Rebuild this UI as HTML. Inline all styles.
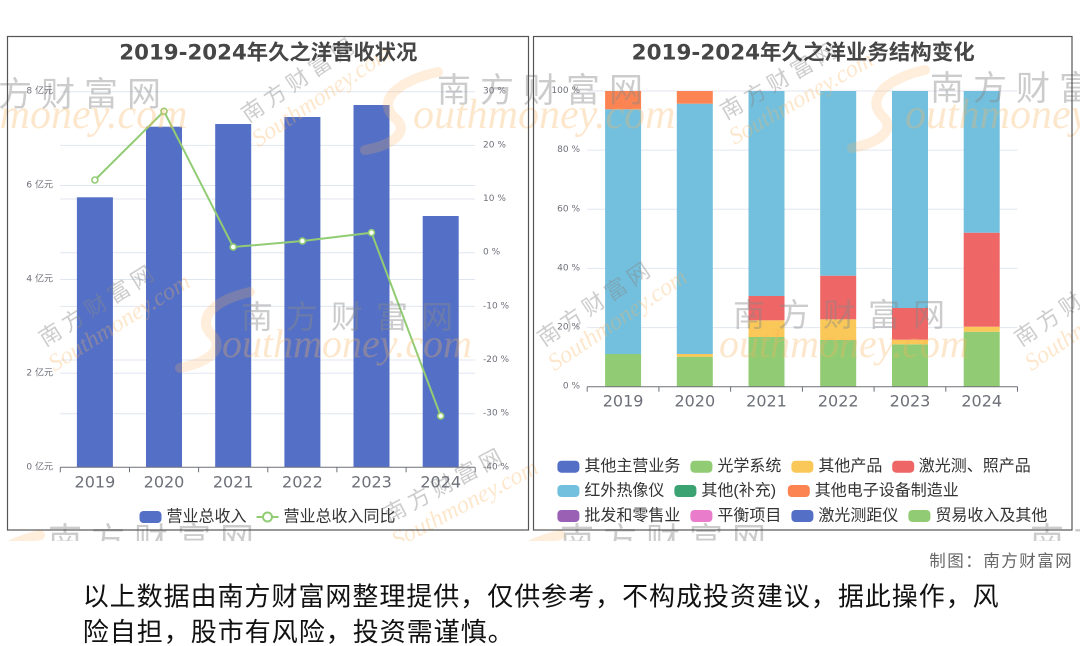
<!DOCTYPE html>
<html><head><meta charset="utf-8"><style>
html,body{margin:0;padding:0;background:#fff;}
svg{display:block}
.ax{font-family:"DejaVu Sans","Noto Sans CJK SC",sans-serif;font-size:9px;fill:#6e7079;}
.xl{font-family:"DejaVu Sans","Noto Sans CJK SC",sans-serif;font-size:16px;fill:#6e7079;}
.tt{font-family:"DejaVu Sans","Noto Sans CJK SC",sans-serif;font-size:21px;font-weight:bold;fill:#464646;}
.lg{font-family:"Liberation Sans","Noto Sans CJK SC",sans-serif;font-size:16px;fill:#333;}
.wg{font-family:"WenQuanYi Zen Hei","Noto Sans CJK SC",sans-serif;fill:#888;opacity:0.42;}
.wo{font-family:"Liberation Serif",serif;font-style:italic;fill:#fbb35a;opacity:0.3;}
</style></head><body>
<svg width="1080" height="646" viewBox="0 0 1080 646" xmlns="http://www.w3.org/2000/svg">
<defs><clipPath id="cl"><rect x="0" y="0" width="1080" height="541"/></clipPath></defs>
<rect x="0" y="0" width="1080" height="646" fill="#fff"/>

<!-- LEFT CHART gridlines -->
<g stroke="#e0e6f1" stroke-width="1">
<line x1="60.3" y1="91.7" x2="475.2" y2="91.7"/>
<line x1="60.3" y1="185.5" x2="475.2" y2="185.5"/>
<line x1="60.3" y1="279.5" x2="475.2" y2="279.5"/>
<line x1="60.3" y1="373.3" x2="475.2" y2="373.3"/>
<line x1="60.3" y1="145.4" x2="475.2" y2="145.4"/>
<line x1="60.3" y1="199" x2="475.2" y2="199"/>
<line x1="60.3" y1="252.7" x2="475.2" y2="252.7"/>
<line x1="60.3" y1="306.4" x2="475.2" y2="306.4"/>
<line x1="60.3" y1="360" x2="475.2" y2="360"/>
<line x1="60.3" y1="413.7" x2="475.2" y2="413.7"/>
</g>
<!-- bars -->
<g fill="#5470c6">
<rect x="76.9" y="197.3" width="36" height="270"/>
<rect x="146" y="126.7" width="36" height="340.6"/>
<rect x="215.2" y="124" width="36" height="343.3"/>
<rect x="284.4" y="117" width="36" height="350.3"/>
<rect x="353.5" y="105" width="36" height="362.3"/>
<rect x="422.7" y="216" width="36" height="251.3"/>
</g>
<!-- line -->
<polyline points="94.9,180 164,111.3 233.2,247 302.4,241 371.5,232.7 440.7,416" fill="none" stroke="#91cc75" stroke-width="2"/>
<g fill="#fff" stroke="#91cc75" stroke-width="1.6">
<circle cx="94.9" cy="180" r="3"/><circle cx="164" cy="111.3" r="3"/><circle cx="233.2" cy="247" r="3"/>
<circle cx="302.4" cy="241" r="3"/><circle cx="371.5" cy="232.7" r="3"/><circle cx="440.7" cy="416" r="3"/>
</g>
<!-- axis -->
<g stroke="#6e7079" stroke-width="1">
<line x1="60.3" y1="467.3" x2="475.2" y2="467.3"/>
<line x1="60.3" y1="467.3" x2="60.3" y2="472.3"/>
<line x1="129.5" y1="467.3" x2="129.5" y2="472.3"/>
<line x1="198.6" y1="467.3" x2="198.6" y2="472.3"/>
<line x1="267.8" y1="467.3" x2="267.8" y2="472.3"/>
<line x1="336.9" y1="467.3" x2="336.9" y2="472.3"/>
<line x1="406.1" y1="467.3" x2="406.1" y2="472.3"/>
<line x1="475.2" y1="467.3" x2="475.2" y2="472.3"/>
</g>

<!-- RIGHT CHART gridlines -->
<g stroke="#e0e6f1" stroke-width="1">
<line x1="587.2" y1="91" x2="1017.5" y2="91"/>
<line x1="587.2" y1="150.1" x2="1017.5" y2="150.1"/>
<line x1="587.2" y1="209.3" x2="1017.5" y2="209.3"/>
<line x1="587.2" y1="268.4" x2="1017.5" y2="268.4"/>
<line x1="587.2" y1="327.6" x2="1017.5" y2="327.6"/>
</g>
<g>
<rect x="605.1" y="354" width="36" height="32.7" fill="#91cc75"/>
<rect x="605.1" y="109.3" width="36" height="244.7" fill="#73c0de"/>
<rect x="605.1" y="91" width="36" height="18.3" fill="#fc8452"/>

<rect x="676.8" y="356.7" width="36" height="30" fill="#91cc75"/>
<rect x="676.8" y="354" width="36" height="2.7" fill="#fac858"/>
<rect x="676.8" y="103.7" width="36" height="250.3" fill="#73c0de"/>
<rect x="676.8" y="91" width="36" height="12.7" fill="#fc8452"/>

<rect x="748.5" y="337" width="36" height="49.7" fill="#91cc75"/>
<rect x="748.5" y="320.3" width="36" height="16.7" fill="#fac858"/>
<rect x="748.5" y="296" width="36" height="24.3" fill="#ee6666"/>
<rect x="748.5" y="91" width="36" height="205" fill="#73c0de"/>

<rect x="820.2" y="340" width="36" height="46.7" fill="#91cc75"/>
<rect x="820.2" y="319.3" width="36" height="20.7" fill="#fac858"/>
<rect x="820.2" y="275.7" width="36" height="43.6" fill="#ee6666"/>
<rect x="820.2" y="91" width="36" height="184.7" fill="#73c0de"/>

<rect x="892" y="344.3" width="36" height="42.4" fill="#91cc75"/>
<rect x="892" y="339.7" width="36" height="4.6" fill="#fac858"/>
<rect x="892" y="308" width="36" height="31.7" fill="#ee6666"/>
<rect x="892" y="91" width="36" height="217" fill="#73c0de"/>

<rect x="963.7" y="331.7" width="36" height="55" fill="#91cc75"/>
<rect x="963.7" y="326.7" width="36" height="5" fill="#fac858"/>
<rect x="963.7" y="232.7" width="36" height="94" fill="#ee6666"/>
<rect x="963.7" y="91" width="36" height="141.7" fill="#73c0de"/>
</g>
<g stroke="#6e7079" stroke-width="1">
<line x1="587.2" y1="386.7" x2="1017.5" y2="386.7"/>
<line x1="587.2" y1="386.7" x2="587.2" y2="391.7"/>
<line x1="658.9" y1="386.7" x2="658.9" y2="391.7"/>
<line x1="730.6" y1="386.7" x2="730.6" y2="391.7"/>
<line x1="802.4" y1="386.7" x2="802.4" y2="391.7"/>
<line x1="874.1" y1="386.7" x2="874.1" y2="391.7"/>
<line x1="945.8" y1="386.7" x2="945.8" y2="391.7"/>
<line x1="1017.5" y1="386.7" x2="1017.5" y2="391.7"/>
</g>

<!-- WATERMARKS -->
<g clip-path="url(#cl)">
<g fill="none" stroke="#fbb35a" stroke-opacity="0.22" stroke-width="10" stroke-linecap="round">
<path d="M438 72 C400 80 375 100 395 118 C410 130 395 145 365 150"/>
<path d="M250 292 C215 300 195 318 212 335 C225 348 210 362 180 368"/>
<path d="M925 70 C888 78 865 98 882 116 C896 128 882 142 852 148"/>
<path d="M40 535 C20 540 10 545 5 548"/>
<path d="M560 535 C540 540 530 545 525 548"/>
</g>
<text class="wg" x="-45" y="106" font-size="34" letter-spacing="9">南方财富网</text>
<text class="wo" x="-75" y="128" font-size="42">outhmoney.com</text>
<text class="wg" x="437" y="102" font-size="34" letter-spacing="9">南方财富网</text>
<text class="wo" x="413" y="128" font-size="42">outhmoney.com</text>
<text class="wg" x="930" y="100" font-size="34" letter-spacing="9">南方财富网</text>
<text class="wo" x="905" y="128" font-size="42">outhmoney.com</text>
<text class="wg" x="241" y="328" font-size="32" letter-spacing="13">南方财富网</text>
<text class="wo" x="222" y="357" font-size="40">outhmoney.com</text>
<text class="wg" x="733" y="326" font-size="32" letter-spacing="13">南方财富网</text>
<text class="wo" x="719" y="357" font-size="40">outhmoney.com</text>
<text class="wg" x="48" y="552" font-size="34" letter-spacing="9">南方财富网</text>
<text class="wg" x="560" y="552" font-size="34" letter-spacing="9">南方财富网</text>
<text class="wg" x="1030" y="552" font-size="34" letter-spacing="9">南方财富网</text>
<g transform="translate(248,123) rotate(-34)"><text class="wg" x="0" y="0" font-size="22" letter-spacing="5">南方财富网</text><text class="wo" x="-5" y="26" font-size="24">Southmoney.com</text></g>
<g transform="translate(45,347) rotate(-32)"><text class="wg" x="0" y="0" font-size="22" letter-spacing="5">南方财富网</text><text class="wo" x="-5" y="26" font-size="24">Southmoney.com</text></g>
<g transform="translate(726,120) rotate(-30)"><text class="wg" x="0" y="0" font-size="22" letter-spacing="5">南方财富网</text><text class="wo" x="-5" y="26" font-size="24">Southmoney.com</text></g>
<g transform="translate(544,347) rotate(-34)"><text class="wg" x="0" y="0" font-size="22" letter-spacing="5">南方财富网</text><text class="wo" x="-5" y="26" font-size="24">Southmoney.com</text></g>
<g transform="translate(1021,347) rotate(-34)"><text class="wg" x="0" y="0" font-size="22" letter-spacing="5">南方财富网</text><text class="wo" x="-5" y="26" font-size="24">Southmoney.com</text></g>
<g transform="translate(389,523) rotate(-28)"><text class="wg" x="0" y="0" font-size="22" letter-spacing="5">南方财富网</text><text class="wo" x="-5" y="26" font-size="24">Southmoney.com</text></g>
</g>

<!-- Panel borders -->
<rect x="7.5" y="36.5" width="521" height="493.5" fill="none" stroke="#555" stroke-width="1.2"/>
<rect x="533.5" y="36.5" width="538.5" height="493.5" fill="none" stroke="#555" stroke-width="1.2"/>

<!-- Titles -->
<text class="tt" x="268.3" y="52.7" text-anchor="middle" dominant-baseline="central" textLength="298" lengthAdjust="spacingAndGlyphs">2019-2024年久之洋营收状况</text>
<text class="tt" x="803.2" y="52.7" text-anchor="middle" dominant-baseline="central" textLength="343" lengthAdjust="spacingAndGlyphs">2019-2024年久之洋业务结构变化</text>

<!-- Left axis labels -->
<g class="ax" text-anchor="end" dominant-baseline="central">
<text x="53" y="91.7">8 亿元</text>
<text x="53" y="185.5">6 亿元</text>
<text x="53" y="279.5">4 亿元</text>
<text x="53" y="373.3">2 亿元</text>
<text x="53" y="467.3">0 亿元</text>
</g>
<g class="ax" text-anchor="start" dominant-baseline="central">
<text x="483" y="91.7">30 %</text>
<text x="483" y="145.4">20 %</text>
<text x="483" y="199">10 %</text>
<text x="483" y="252.7">0 %</text>
<text x="483" y="306.4">-10 %</text>
<text x="483" y="360">-20 %</text>
<text x="483" y="413.7">-30 %</text>
<text x="483" y="467.3">-40 %</text>
</g>
<g class="xl" text-anchor="middle" dominant-baseline="central">
<text x="94.9" y="482">2019</text>
<text x="164" y="482">2020</text>
<text x="233.2" y="482">2021</text>
<text x="302.4" y="482">2022</text>
<text x="371.5" y="482">2023</text>
<text x="440.7" y="482">2024</text>
</g>

<!-- Right axis labels -->
<g class="ax" text-anchor="end" dominant-baseline="central">
<text x="580" y="91">100 %</text>
<text x="580" y="150.1">80 %</text>
<text x="580" y="209.3">60 %</text>
<text x="580" y="268.4">40 %</text>
<text x="580" y="327.6">20 %</text>
<text x="580" y="386.7">0 %</text>
</g>
<g class="xl" text-anchor="middle" dominant-baseline="central">
<text x="623.1" y="401">2019</text>
<text x="694.8" y="401">2020</text>
<text x="766.5" y="401">2021</text>
<text x="838.2" y="401">2022</text>
<text x="910" y="401">2023</text>
<text x="981.7" y="401">2024</text>
</g>

<!-- Left legend -->
<rect x="139.5" y="511" width="22" height="12" rx="4" fill="#5470c6"/>
<text class="lg" x="166.5" y="517" dominant-baseline="central">营业总收入</text>
<line x1="256.5" y1="517" x2="278.5" y2="517" stroke="#91cc75" stroke-width="2"/>
<circle cx="267.5" cy="517" r="4.5" fill="#fff" stroke="#91cc75" stroke-width="2"/>
<text class="lg" x="283.5" y="517" dominant-baseline="central">营业总收入同比</text>

<!-- Right legend -->
<g>
<rect x="557.4" y="460.7" width="22" height="12" rx="4" fill="#5470c6"/>
<text class="lg" x="584.4" y="466.7" dominant-baseline="central">其他主营业务</text>
<rect x="690.4" y="460.7" width="22" height="12" rx="4" fill="#91cc75"/>
<text class="lg" x="717.4" y="466.7" dominant-baseline="central">光学系统</text>
<rect x="791.4" y="460.7" width="22" height="12" rx="4" fill="#fac858"/>
<text class="lg" x="818.4" y="466.7" dominant-baseline="central">其他产品</text>
<rect x="892.2" y="460.7" width="22" height="12" rx="4" fill="#ee6666"/>
<text class="lg" x="918.8" y="466.7" dominant-baseline="central">激光测、照产品</text>

<rect x="557.4" y="485" width="22" height="12" rx="4" fill="#73c0de"/>
<text class="lg" x="584.4" y="491" dominant-baseline="central">红外热像仪</text>
<rect x="674.4" y="485" width="22" height="12" rx="4" fill="#3ba272"/>
<text class="lg" x="701.4" y="491" dominant-baseline="central">其他(补充)</text>
<rect x="787.8" y="485" width="22" height="12" rx="4" fill="#fc8452"/>
<text class="lg" x="814.8" y="491" dominant-baseline="central">其他电子设备制造业</text>

<rect x="557.4" y="510" width="22" height="12" rx="4" fill="#9a60b4"/>
<text class="lg" x="584.4" y="516" dominant-baseline="central">批发和零售业</text>
<rect x="690.4" y="510" width="22" height="12" rx="4" fill="#ea7ccc"/>
<text class="lg" x="717.4" y="516" dominant-baseline="central">平衡项目</text>
<rect x="791.4" y="510" width="22" height="12" rx="4" fill="#5470c6"/>
<text class="lg" x="818.4" y="516" dominant-baseline="central">激光测距仪</text>
<rect x="908.4" y="510" width="22" height="12" rx="4" fill="#91cc75"/>
<text class="lg" x="935.4" y="516" dominant-baseline="central">贸易收入及其他</text>
</g>

<!-- Footer -->
<text x="929.3" y="561.7" dominant-baseline="central" font-family="Liberation Sans, Noto Sans CJK SC, sans-serif" font-size="16.5" fill="#666" textLength="142.4" lengthAdjust="spacing">制图：南方财富网</text>
<text x="82.7" y="596.7" dominant-baseline="central" font-family="Liberation Sans, Noto Sans CJK SC, sans-serif" font-size="26" fill="#111" textLength="916" lengthAdjust="spacing">以上数据由南方财富网整理提供，仅供参考，不构成投资建议，据此操作，风</text>
<text x="82.7" y="632" dominant-baseline="central" font-family="Liberation Sans, Noto Sans CJK SC, sans-serif" font-size="26" fill="#111" textLength="431" lengthAdjust="spacing">险自担，股市有风险，投资需谨慎。</text>
</svg>
</body></html>
